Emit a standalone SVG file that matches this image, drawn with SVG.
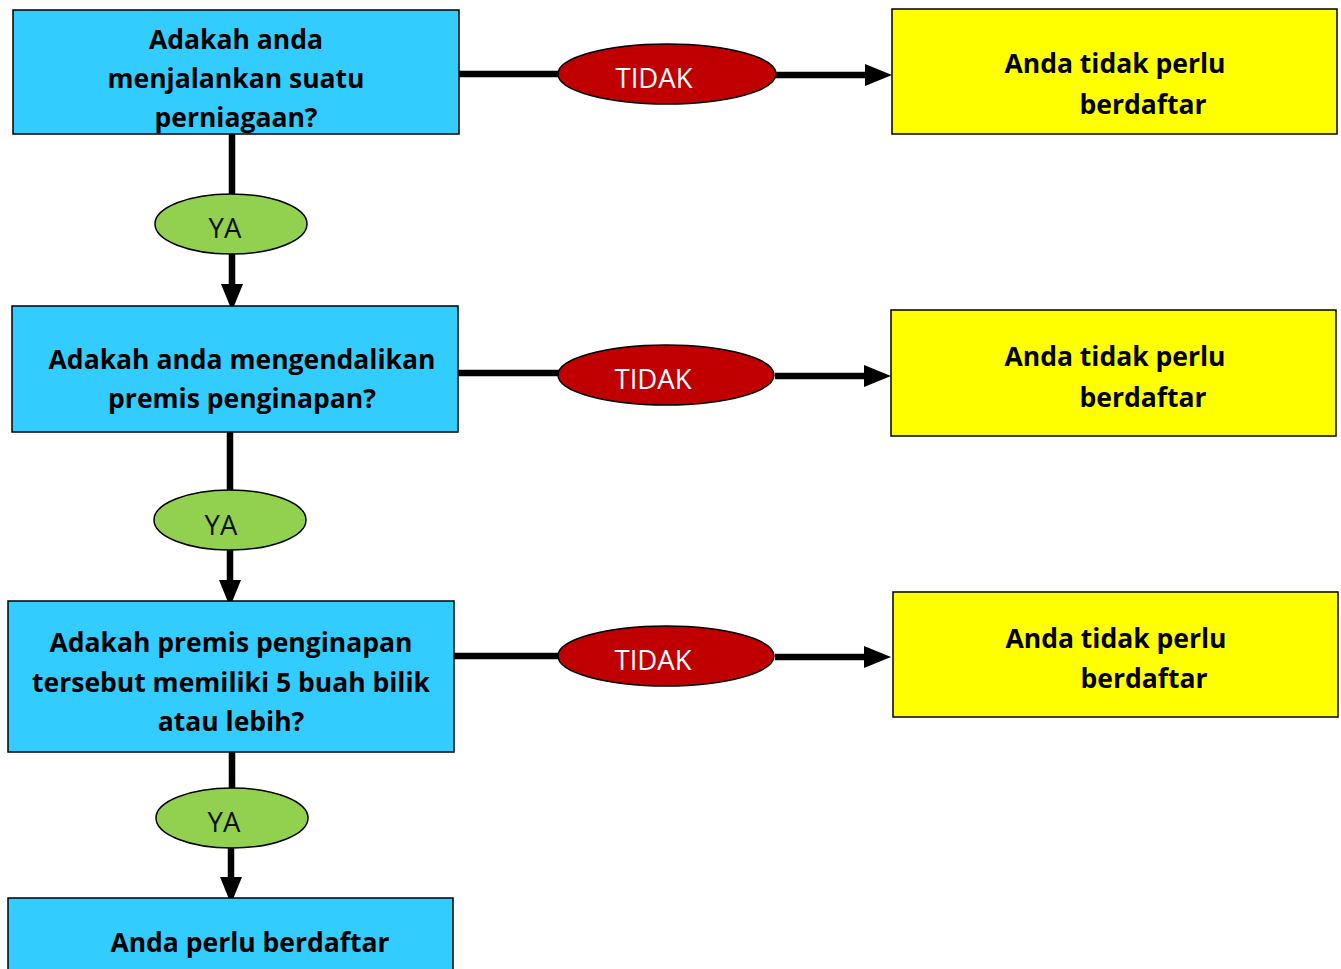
<svg xmlns="http://www.w3.org/2000/svg" width="1341" height="969" viewBox="0 0 1341 969">
<defs>
<style>
.q{fill:#33CCFF;stroke:#000;stroke-width:1.5}
.n{fill:#FFFF00;stroke:#000;stroke-width:1.5}
.r{fill:#C00000;stroke:#000;stroke-width:1.5}
.g{fill:#92D050;stroke:#000;stroke-width:1.5}
.t{font-family:"Open Sans",sans-serif;font-weight:700;font-size:26.5px;fill:#000;text-anchor:middle}
.w{font-family:"Open Sans",sans-serif;font-size:27.5px;fill:#fff;text-anchor:middle}
.y{font-family:"Open Sans",sans-serif;font-size:27.5px;fill:#111;text-anchor:middle}
.c{fill:none;stroke:#000;stroke-width:6.5}
</style>
<marker id="ah" markerUnits="userSpaceOnUse" markerWidth="27" markerHeight="22" refX="0" refY="11" orient="auto" viewBox="0 0 27 22">
<path d="M0,0 L27,11 L0,22 z" fill="#000"/>
</marker>
</defs>
<g id="connectors">
<path class="c" d="M459,74 H560"/>
<path class="c" d="M776,75 H865" marker-end="url(#ah)"/>
<path class="c" d="M458,373 H560"/>
<path class="c" d="M775,376 H864" marker-end="url(#ah)"/>
<path class="c" d="M454,656 H560"/>
<path class="c" d="M775,657 H864" marker-end="url(#ah)"/>
<path class="c" d="M232,134 V195"/>
<path class="c" d="M232,254 V284" marker-end="url(#ah)"/>
<path class="c" d="M230,432 V492"/>
<path class="c" d="M230,550 V580" marker-end="url(#ah)"/>
<path class="c" d="M232,752 V789"/>
<path class="c" d="M231,847 V877" marker-end="url(#ah)"/>
</g>
<g id="q1"><rect class="q" x="13" y="10" width="446" height="124"/>
<text class="t" x="236" y="49">Adakah anda</text><text class="t" x="236" y="88">menjalankan suatu</text><text class="t" x="236" y="127">perniagaan?</text></g>
<g id="q2"><rect class="q" x="12" y="306" width="446" height="126"/>
<text class="t" x="242" y="369">Adakah anda mengendalikan</text><text class="t" x="242" y="408">premis penginapan?</text></g>
<g id="q3"><rect class="q" x="8" y="601" width="446" height="151"/>
<text class="t" x="231" y="652">Adakah premis penginapan</text><text class="t" x="231" y="692">tersebut memiliki 5 buah bilik</text><text class="t" x="231" y="731">atau lebih?</text></g>
<g id="result"><rect class="q" x="8" y="898" width="445" height="80"/>
<text class="t" x="250" y="952">Anda perlu berdaftar</text></g>
<g id="n1"><rect class="n" x="892" y="9" width="445" height="125"/>
<text class="t" x="1115" y="73">Anda tidak perlu</text><text class="t" x="1143" y="114">berdaftar</text></g>
<g id="n2"><rect class="n" x="891" y="310" width="445" height="126"/>
<text class="t" x="1115" y="366">Anda tidak perlu</text><text class="t" x="1143" y="407">berdaftar</text></g>
<g id="n3"><rect class="n" x="893" y="592" width="445" height="125"/>
<text class="t" x="1116" y="648">Anda tidak perlu</text><text class="t" x="1144" y="688">berdaftar</text></g>
<g id="tidak1"><ellipse class="r" cx="667" cy="74" rx="109" ry="30"/><text class="w" x="654" y="88">TIDAK</text></g>
<g id="tidak2"><ellipse class="r" cx="666" cy="375" rx="108" ry="30"/><text class="w" x="653" y="389">TIDAK</text></g>
<g id="tidak3"><ellipse class="r" cx="666" cy="656" rx="108" ry="30"/><text class="w" x="653" y="670">TIDAK</text></g>
<g id="ya1"><ellipse class="g" cx="231" cy="224" rx="76" ry="30"/><text class="y" x="225" y="238">YA</text></g>
<g id="ya2"><ellipse class="g" cx="230" cy="520" rx="76" ry="30"/><text class="y" x="221" y="535">YA</text></g>
<g id="ya3"><ellipse class="g" cx="232" cy="818" rx="76" ry="30"/><text class="y" x="224" y="832">YA</text></g>
</svg>
